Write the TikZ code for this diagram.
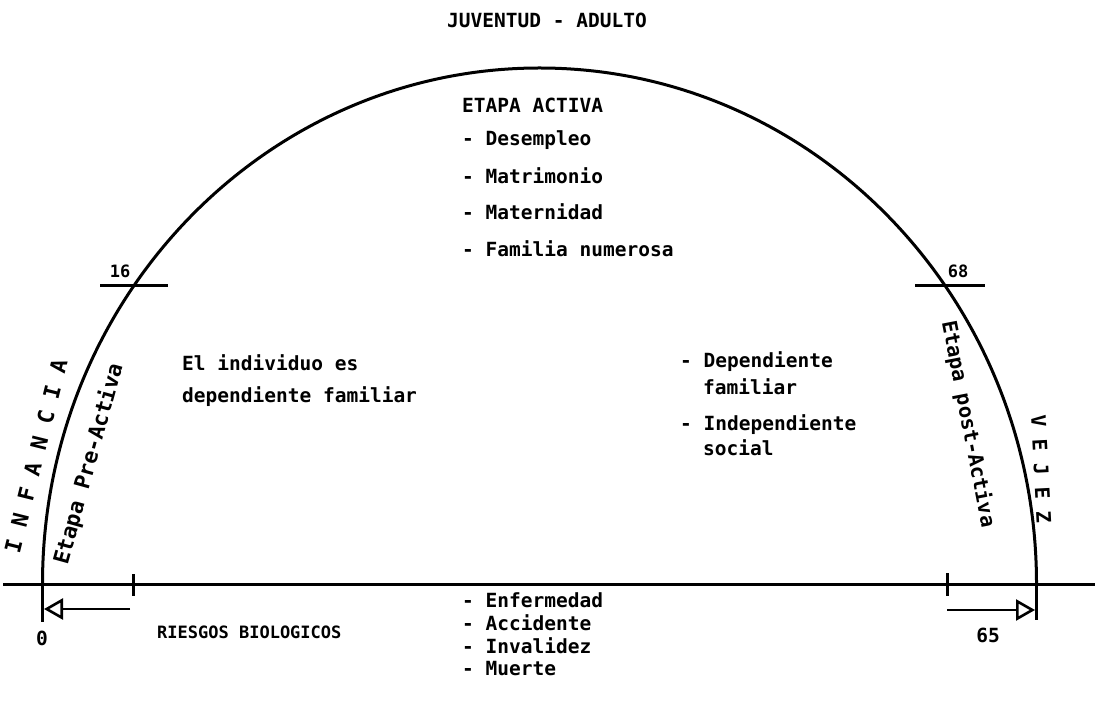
\documentclass[tikz,border=0pt]{standalone}
\usepackage{fontspec}
\setmainfont{DejaVu Sans Mono}
\usetikzlibrary{arrows.meta}
\tikzset{
  lbl/.style={font=\fontsize{19.5}{23}\selectfont\bfseries, inner sep=0pt},
  lw/.style={lbl, anchor=west},
  small/.style={font=\fontsize{17}{20}\selectfont\bfseries, inner sep=0pt},
  rot/.style={font=\fontsize{#1}{24}\selectfont\bfseries, inner sep=0pt},
  heavy/.style={line width=3pt},
  openarrow/.style={line width=2.6pt, -{Triangle[open,length=19pt,width=21pt,line width=2.6pt]}}
}
\begin{document}
\begin{tikzpicture}[x=1pt,y=1pt]
\useasboundingbox (0,0) rectangle (1102,702);
\fill[white] (0,0) rectangle (1102,702);

% base line
\coordinate (bl) at (3,118);
\coordinate (br) at (1095,118);
\draw[heavy] (bl) -- (br);

% arc
\coordinate (L) at (42.5,118);
\draw[heavy] (L) arc[start angle=180,end angle=0,x radius=497pt,y radius=516pt] coordinate (R);
\coordinate (Lb) at (42.5,80);
\coordinate (Rb) at (1036.5,82);
\draw[heavy] (L) -- (Lb);
\draw[heavy] (R) -- (Rb);

% age ticks on the arc
\coordinate (t16a) at (100,416);
\coordinate (t16b) at (168,416);
\draw[heavy] (t16a) -- (t16b);
\coordinate (t68a) at (915,416);
\coordinate (t68b) at (985,416);
\draw[heavy] (t68a) -- (t68b);
\node[small] (n16) at (120,431) {16};
\node[small] (n68) at (958,431) {68};

% ticks on the base line
\coordinate (bt1a) at (133,128);
\coordinate (bt1b) at (133,106);
\draw[heavy] (bt1a) -- (bt1b);
\coordinate (bt2a) at (947,129);
\coordinate (bt2b) at (947,106);
\draw[heavy] (bt2a) -- (bt2b);

% arrows
\coordinate (a1s) at (130,93);
\coordinate (a1e) at (44,93);
\draw[openarrow] (a1s) -- (a1e);
\coordinate (a2s) at (947,92);
\coordinate (a2e) at (1035,92);
\draw[openarrow] (a2s) -- (a2e);

% titles
\node[lbl] (juv) at (547,682) {JUVENTUD - ADULTO};
\node[lw] (ea) at (462,597) {ETAPA ACTIVA};
\node[lw] (e1) at (462,562) {- Desempleo};
\node[lw] (e2) at (462,526) {- Matrimonio};
\node[lw] (e3) at (462,490) {- Maternidad};
\node[lw] (e4) at (462,453) {- Familia numerosa};

\node[lw] (ind1) at (182,339) {El individuo es};
\node[lw] (ind2) at (182,305) {dependiente familiar};

\node[lw] (d1) at (680,340) {- Dependiente};
\node[lw] (d2) at (703,315) {familiar};
\node[lw] (d3) at (680,277) {- Independiente};
\node[lw] (d4) at (703,254) {social};

% bottom
\node[lbl] (zero) at (42,64) {0};
\node[lbl] (s65) at (988,67) {65};
\node[small, anchor=west] (rb) at (157,70) {RIESGOS BIOLOGICOS};
\node[lw] (r1) at (462,102) {- Enfermedad};
\node[lw] (r2) at (462,79) {- Accidente};
\node[lw] (r3) at (462,56) {- Invalidez};
\node[lw] (r4) at (462,33) {- Muerte};

% rotated labels
\node[rot=22, rotate=76] (inf) at (36,246) {I N F A N C I A};
\node[rot=21.5, rotate=74.5] (pre) at (89,238) {Etapa Pre-Activa};
\node[rot=20.5, rotate=-79] (post) at (968,278) {Etapa post-Activa};
\node[rot=20, rotate=-87] (vej) at (1041,233) {V E J E Z};
\end{tikzpicture}
\end{document}
